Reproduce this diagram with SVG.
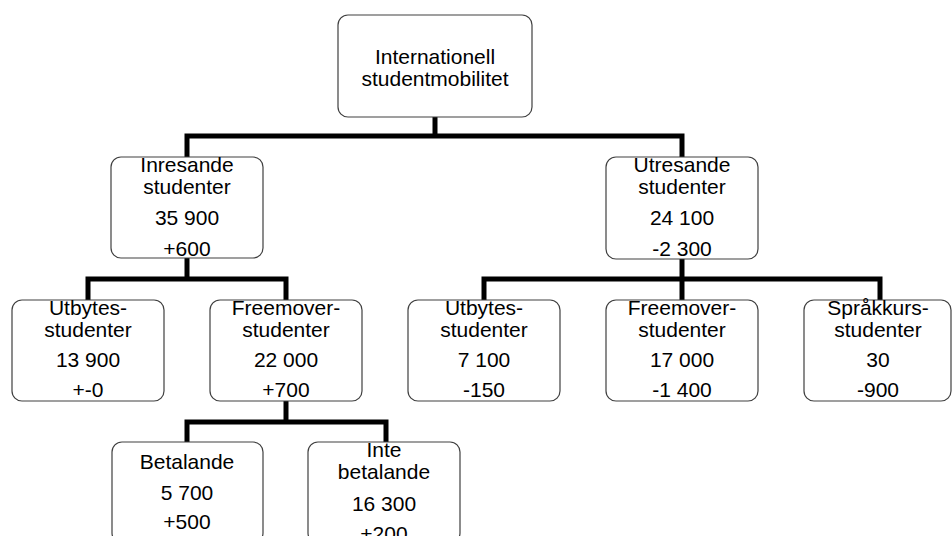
<svg xmlns="http://www.w3.org/2000/svg" width="952" height="536" viewBox="0 0 952 536">
<style>
.box{fill:#ffffff;stroke:#404040;stroke-width:1.2}
.conn{fill:none;stroke:#000000;stroke-width:5;stroke-linejoin:miter}
text{font-family:"Liberation Sans",Arial,sans-serif;font-size:21px;fill:#000000;text-anchor:middle}
</style>
<rect width="952" height="536" fill="#ffffff"/>
<g id="connectors">
<path class="conn" d="M435 117 V136"/>
<path class="conn" d="M187 157 V136 H682 V157"/>
<path class="conn" d="M187 258 V279"/>
<path class="conn" d="M88 300 V279 H286 V300"/>
<path class="conn" d="M682 259 V300"/>
<path class="conn" d="M484 300 V279 H880 V300"/>
<path class="conn" d="M286 401 V422"/>
<path class="conn" d="M187 442 V422 H386 V442"/>
</g>
<g id="n-root">
<rect class="box" x="338" y="15" width="194" height="102" rx="10"/>
<text x="435" y="64">Internationell</text>
<text x="435" y="86">studentmobilitet</text>
</g>
<g id="n-inresande">
<rect class="box" x="111" y="157" width="152" height="101" rx="10"/>
<text x="187" y="172">Inresande</text>
<text x="187" y="194">studenter</text>
<text x="187" y="225">35 900</text>
<text x="187" y="256">+600</text>
</g>
<g id="n-utresande">
<rect class="box" x="606" y="157" width="152" height="102" rx="10"/>
<text x="682" y="172">Utresande</text>
<text x="682" y="194">studenter</text>
<text x="682" y="225">24 100</text>
<text x="682" y="256">-2 300</text>
</g>
<g id="n-in-utbytes">
<rect class="box" x="12" y="300" width="152" height="101" rx="10"/>
<text x="88" y="315">Utbytes-</text>
<text x="88" y="337">studenter</text>
<text x="88" y="367">13 900</text>
<text x="88" y="397">+-0</text>
</g>
<g id="n-in-freemover">
<rect class="box" x="210" y="300" width="152" height="101" rx="10"/>
<text x="286" y="315">Freemover-</text>
<text x="286" y="337">studenter</text>
<text x="286" y="367">22 000</text>
<text x="286" y="397">+700</text>
</g>
<g id="n-ut-utbytes">
<rect class="box" x="408" y="300" width="152" height="101" rx="10"/>
<text x="484" y="315">Utbytes-</text>
<text x="484" y="337">studenter</text>
<text x="484" y="367">7 100</text>
<text x="484" y="397">-150</text>
</g>
<g id="n-ut-freemover">
<rect class="box" x="606" y="300" width="152" height="101" rx="10"/>
<text x="682" y="315">Freemover-</text>
<text x="682" y="337">studenter</text>
<text x="682" y="367">17 000</text>
<text x="682" y="397">-1 400</text>
</g>
<g id="n-sprakkurs">
<rect class="box" x="804" y="300" width="147" height="101" rx="10"/>
<text x="878" y="315">Språkkurs-</text>
<text x="878" y="337">studenter</text>
<text x="878" y="367">30</text>
<text x="878" y="397">-900</text>
</g>
<g id="n-betalande">
<rect class="box" x="112" y="442" width="151" height="101" rx="10"/>
<text x="187" y="469">Betalande</text>
<text x="187" y="500">5 700</text>
<text x="187" y="529">+500</text>
</g>
<g id="n-inte-betalande">
<rect class="box" x="308" y="442" width="152" height="101" rx="10"/>
<text x="384" y="457">Inte</text>
<text x="384" y="479">betalande</text>
<text x="384" y="511">16 300</text>
<text x="384" y="541">+200</text>
</g>
</svg>
